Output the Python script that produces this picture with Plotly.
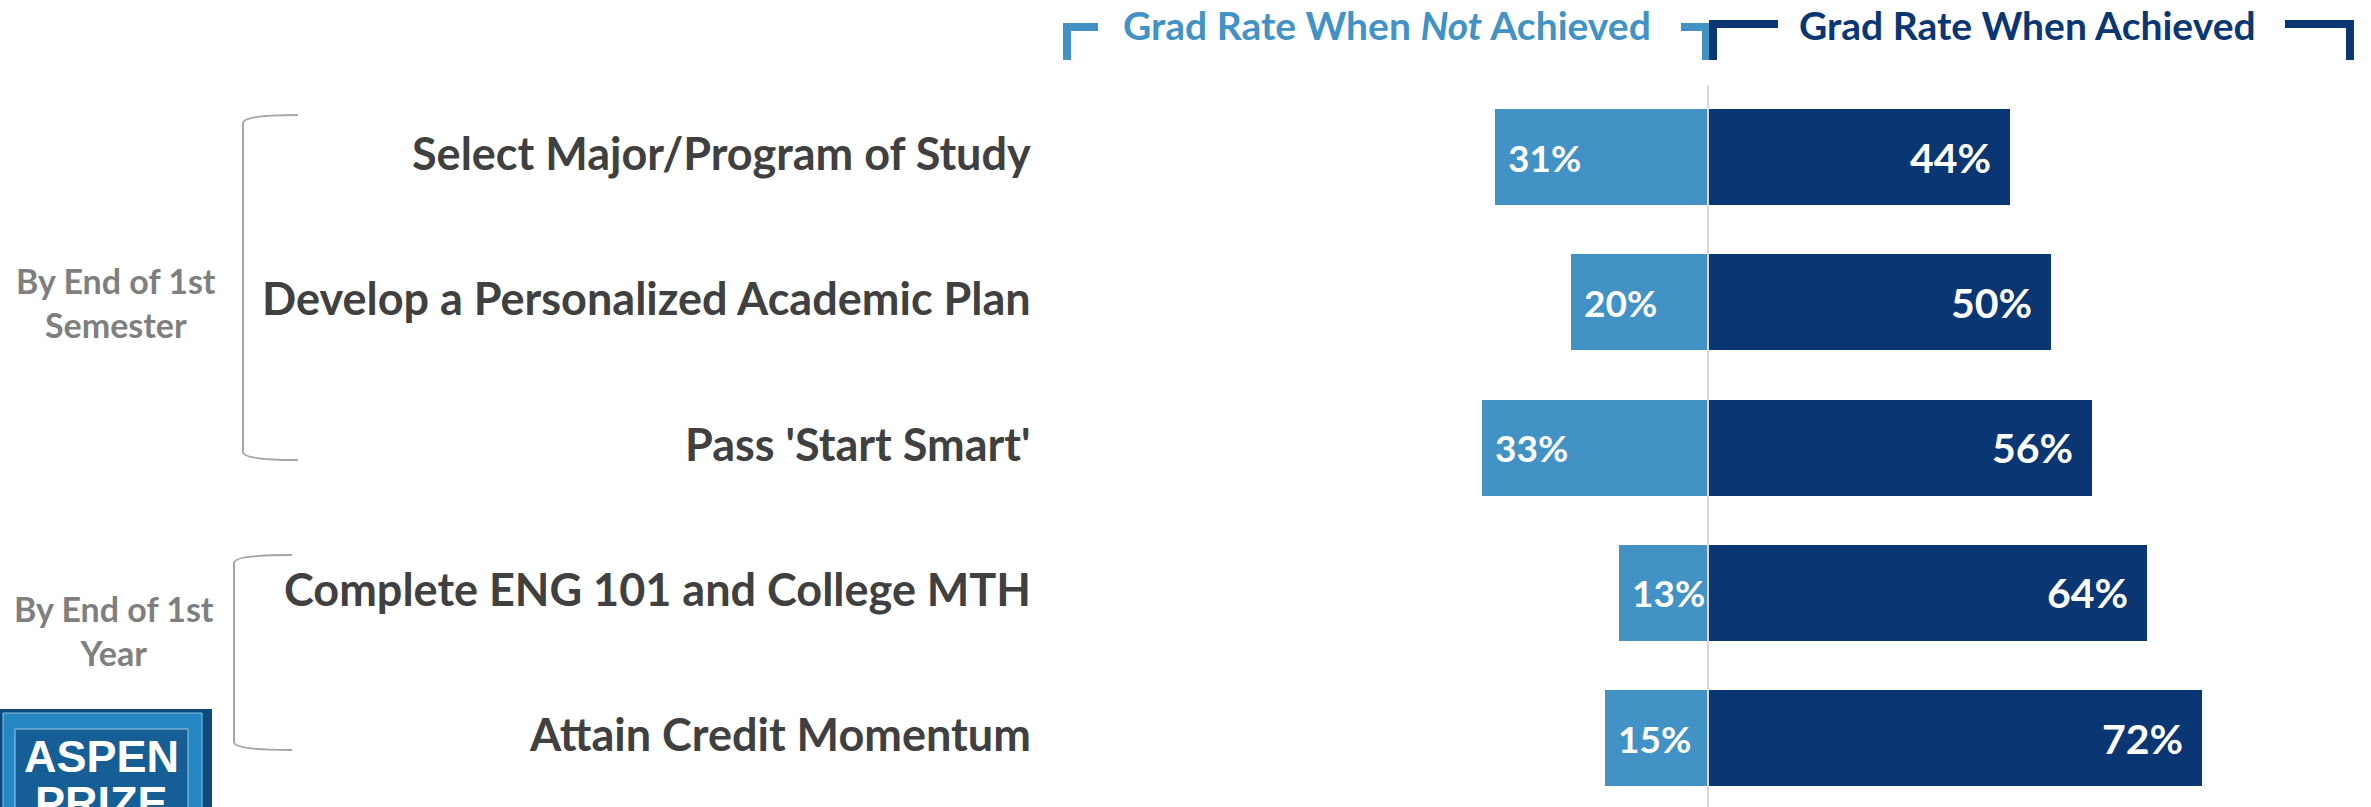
import plotly.graph_objects as go

# ---------------- data ----------------
categories = [
    "Select Major/Program of Study",
    "Develop a Personalized Academic Plan",
    "Pass 'Start Smart'",
    "Complete ENG 101 and College MTH",
    "Attain Credit Momentum",
]
not_achieved = [31, 20, 33, 13, 15]
achieved = [44, 50, 56, 64, 72]
groups = ["By End of 1st<br>Semester", "By End of 1st<br>Year"]
header_not = "Grad Rate When <i>Not</i> Achieved"
header_ach = "Grad Rate When Achieved"

# ---------------- style ----------------
W, H = 2371, 807
LIGHT = "#4292C6"
DARK = "#0A3673"
LABEL_GRAY = "#404040"
GROUP_GRAY = "#7F7F7F"
FONT = "Lato"

ZERO_PX = 1708.0
PX_PER_UNIT = 6.86
ROW0_PX = 157.0
ROW_STEP = 145.25
BAR_W = 96 / ROW_STEP

x_range = [-ZERO_PX / PX_PER_UNIT, (W - ZERO_PX) / PX_PER_UNIT]
y_range = [(H - ROW0_PX) / ROW_STEP, -ROW0_PX / ROW_STEP]


def px(x):
    return x / W


def py(y):
    return 1 - y / H


fig = go.Figure()
fig.add_trace(go.Bar(
    y=categories, x=[-v for v in not_achieved], orientation="h",
    marker=dict(color=LIGHT, line=dict(width=0)), width=BAR_W,
    hoverinfo="skip", name="Not achieved"))
fig.add_trace(go.Bar(
    y=categories, x=achieved, orientation="h",
    marker=dict(color=DARK, line=dict(width=0)), width=BAR_W,
    hoverinfo="skip", name="Achieved"))

annotations = []
# value labels
for c, v in zip(categories, not_achieved):
    annotations.append(dict(x=-v, y=c, xref="x", yref="y", text=f"{v}%",
                            showarrow=False, xanchor="left", yanchor="middle",
                            xshift=11, font=dict(family=FONT, size=37, color="white", weight="bold")))
for c, v in zip(categories, achieved):
    annotations.append(dict(x=v, y=c, xref="x", yref="y", text=f"{v}%",
                            showarrow=False, xanchor="right", yanchor="middle",
                            xshift=-17, font=dict(family=FONT, size=41, color="white", weight="bold")))
# category labels
for c in categories:
    annotations.append(dict(x=px(1033), y=c, xref="paper", yref="y", text=c,
                            showarrow=False, xanchor="right", yanchor="middle", yshift=4,
                            font=dict(family=FONT, size=45, color=LABEL_GRAY, weight="bold")))
# group labels
group_centers_px = [(280 + 325) / 2, (608 + 652) / 2]
group_x_px = [116, 114]
for g, gy, gx in zip(groups, group_centers_px, group_x_px):
    annotations.append(dict(x=px(gx), y=py(gy), xref="paper", yref="paper", text=g,
                            showarrow=False, xanchor="center", yanchor="middle", align="center",
                            font=dict(family=FONT, size=34, color=GROUP_GRAY, weight="bold")))
# headers
annotations.append(dict(x=px(1387), y=py(25), xref="paper", yref="paper", text=header_not,
                        showarrow=False, xanchor="center", yanchor="middle",
                        font=dict(family=FONT, size=39, color=LIGHT, weight="bold")))
annotations.append(dict(x=px(2027), y=py(25), xref="paper", yref="paper", text=header_ach,
                        showarrow=False, xanchor="center", yanchor="middle",
                        font=dict(family=FONT, size=39, color=DARK, weight="bold")))
# logo text
annotations.append(dict(x=px(102), y=py(756), xref="paper", yref="paper", text="ASPEN",
                        showarrow=False, xanchor="center", yanchor="middle",
                        font=dict(family="Liberation Sans", size=45, color="white", weight="bold")))
annotations.append(dict(x=px(102), y=py(802), xref="paper", yref="paper", text="PRIZE",
                        showarrow=False, xanchor="center", yanchor="middle",
                        font=dict(family="Liberation Sans", size=45, color="white", weight="bold")))


def path_px(points):
    s = ""
    for i, (x, y) in enumerate(points):
        s += ("M" if i == 0 else "L") + f" {px(x):.6f},{py(y):.6f} "
    return s


shapes = []
# center line
shapes.append(dict(type="line", xref="x", yref="paper", x0=0, x1=0, y0=py(85), y1=0,
                   line=dict(color="#D9D9D9", width=2), layer="above"))
# header brackets
for pts, col in [
    ([(1098, 27), (1067, 27), (1067, 60)], LIGHT),
    ([(1681, 27), (1706, 27), (1706, 60)], LIGHT),
    ([(1778, 24), (1713, 24), (1713, 60)], DARK),
    ([(2285, 24), (2350, 24), (2350, 60)], DARK),
]:
    shapes.append(dict(type="path", xref="paper", yref="paper", path=path_px(pts),
                       line=dict(color=col, width=8), layer="above"))
# group brackets (thin curved)
for (xv, xe, yt, yb) in [(243, 298, 115, 460), (234, 292, 555, 750)]:
    p = (f"M {px(xe):.6f},{py(yt):.6f} Q {px(xv):.6f},{py(yt):.6f} {px(xv):.6f},{py(yt + 8):.6f} "
         f"L {px(xv):.6f},{py(yb - 8):.6f} Q {px(xv):.6f},{py(yb):.6f} {px(xe):.6f},{py(yb):.6f}")
    shapes.append(dict(type="path", xref="paper", yref="paper", path=p,
                       line=dict(color="#A6A6A6", width=2), layer="above"))
# logo
shapes.append(dict(type="rect", xref="paper", yref="paper", x0=px(0), x1=px(212), y0=py(709), y1=py(810),
                   fillcolor="#0B4A7D", line=dict(width=0), layer="below"))
shapes.append(dict(type="rect", xref="paper", yref="paper", x0=px(3), x1=px(202), y0=py(713), y1=py(810),
                   fillcolor="#2787C4", line=dict(color="#8DBFE0", width=1), layer="below"))
shapes.append(dict(type="rect", xref="paper", yref="paper", x0=px(15), x1=px(188), y0=py(729), y1=py(810),
                   fillcolor="#165E96", line=dict(color="#9CC8E6", width=1), layer="below"))

fig.update_layout(
    width=W, height=H,
    margin=dict(l=0, r=0, t=0, b=0),
    paper_bgcolor="white", plot_bgcolor="white",
    barmode="relative", bargap=0,
    showlegend=False,
    xaxis=dict(range=x_range, visible=False, fixedrange=True),
    yaxis=dict(range=y_range, visible=False, type="category", categoryorder="array",
               categoryarray=categories, fixedrange=True),
    annotations=annotations,
    shapes=shapes,
)

fig.write_html("out.html", config={"displayModeBar": False},
               post_script="document.body.style.margin='0';document.body.style.overflow='hidden';")
